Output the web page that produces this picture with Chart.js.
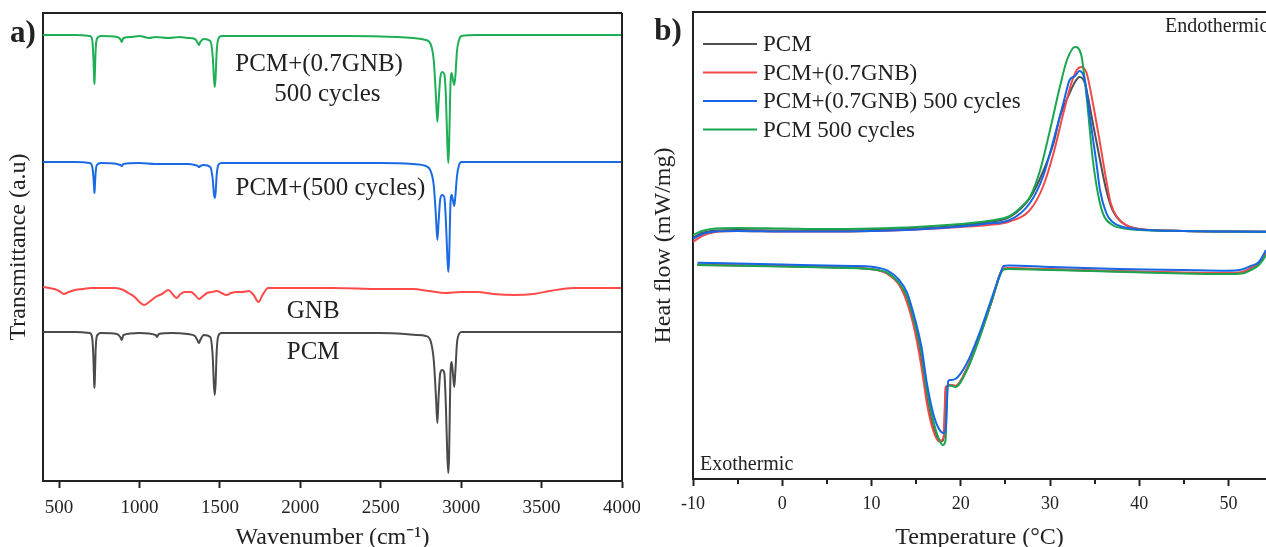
<!DOCTYPE html>
<html><head><meta charset="utf-8">
<script src="https://cdn.jsdelivr.net/npm/chart.js@4.4.0/dist/chart.umd.min.js"></script>
<style>
html,body{margin:0;padding:0;background:#fff;}
#wrap{position:relative;width:1266px;height:547px;overflow:hidden;background:#fff;}
#c1{position:absolute;left:0;top:0;width:640px;height:547px;}
#c2{position:absolute;left:640px;top:0;width:626px;height:547px;}
</style></head><body>
<div id="wrap"><canvas id="c1" width="640" height="547"></canvas><canvas id="c2" width="626" height="547"></canvas></div>
<script>
// ---------- Panel a) FTIR spectra: [wavenumber cm-1, transmittance a.u. (offset)] ----------
const ftirPCM500GNB = [[400,4.46],[600,4.46],[690,4.45],[705,4.42],[713,4.25],[718,4.02],[720,3.97],[722,4.05],[727,4.30],[735,4.42],[760,4.45],[860,4.44],[880,4.42],[890,4.39],[900,4.43],[950,4.44],[1000,4.45],[1060,4.43],[1100,4.44],[1180,4.43],[1250,4.44],[1300,4.43],[1345,4.42],[1362,4.38],[1370,4.36],[1378,4.39],[1400,4.42],[1440,4.40],[1455,4.25],[1463,4.02],[1468,3.94],[1473,4.03],[1480,4.30],[1490,4.42],[1510,4.45],[1700,4.45],[2000,4.45],[2300,4.45],[2600,4.44],[2700,4.43],[2780,4.41],[2810,4.37],[2830,4.20],[2843,3.85],[2852,3.59],[2860,3.80],[2870,4.03],[2882,4.09],[2895,4.07],[2905,3.85],[2914,3.38],[2920,3.18],[2925,3.35],[2933,3.95],[2941,4.08],[2950,4.00],[2957,3.96],[2964,4.05],[2974,4.30],[2987,4.41],[3002,4.45],[3100,4.46],[3500,4.46],[4000,4.46]];
const ftirPCM500 = [[400,3.19],[600,3.19],[690,3.18],[705,3.15],[713,3.05],[718,2.92],[720,2.88],[722,2.93],[727,3.08],[735,3.16],[760,3.18],[860,3.17],[880,3.16],[890,3.15],[900,3.17],[1000,3.18],[1100,3.17],[1200,3.17],[1300,3.17],[1345,3.16],[1362,3.15],[1370,3.14],[1378,3.15],[1400,3.16],[1440,3.14],[1455,3.02],[1463,2.87],[1468,2.83],[1473,2.88],[1480,3.06],[1490,3.16],[1510,3.18],[2000,3.18],[2500,3.18],[2700,3.17],[2780,3.15],[2810,3.10],[2830,2.95],[2843,2.65],[2852,2.41],[2860,2.60],[2870,2.82],[2882,2.86],[2895,2.84],[2905,2.60],[2914,2.25],[2920,2.09],[2925,2.22],[2933,2.75],[2941,2.86],[2950,2.80],[2957,2.75],[2964,2.85],[2974,3.05],[2987,3.16],[3002,3.19],[4000,3.19]];
const ftirGNB = [[400,1.94],[440,1.93],[470,1.92],[500,1.90],[530,1.87],[560,1.89],[600,1.91],[650,1.92],[700,1.93],[850,1.93],[900,1.91],[930,1.88],[970,1.84],[1000,1.79],[1030,1.76],[1060,1.79],[1100,1.84],[1140,1.87],[1180,1.91],[1205,1.87],[1230,1.83],[1255,1.87],[1280,1.89],[1320,1.89],[1345,1.86],[1370,1.82],[1395,1.85],[1420,1.88],[1450,1.89],[1480,1.90],[1510,1.88],[1540,1.86],[1570,1.88],[1600,1.89],[1640,1.89],[1680,1.90],[1710,1.86],[1740,1.79],[1765,1.86],[1800,1.93],[2000,1.93],[2200,1.93],[2500,1.92],[2700,1.92],[2800,1.90],[2900,1.88],[3000,1.89],[3100,1.89],[3200,1.87],[3330,1.86],[3450,1.87],[3550,1.90],[3700,1.93],[4000,1.93]];
const ftirPCM = [[400,1.49],[600,1.49],[690,1.48],[705,1.44],[713,1.25],[718,0.98],[720,0.93],[722,1.00],[727,1.30],[735,1.45],[760,1.48],[860,1.47],[880,1.44],[890,1.41],[900,1.46],[1000,1.48],[1100,1.46],[1110,1.44],[1120,1.47],[1200,1.48],[1300,1.47],[1345,1.45],[1362,1.40],[1370,1.38],[1378,1.41],[1400,1.46],[1440,1.44],[1455,1.25],[1463,0.95],[1468,0.86],[1473,0.97],[1480,1.30],[1490,1.45],[1510,1.48],[2000,1.48],[2500,1.48],[2650,1.47],[2720,1.46],[2780,1.45],[2810,1.40],[2830,1.20],[2843,0.85],[2852,0.58],[2860,0.85],[2870,1.08],[2882,1.11],[2895,1.08],[2905,0.75],[2914,0.25],[2920,0.08],[2925,0.25],[2933,1.05],[2941,1.19],[2950,1.05],[2957,0.94],[2964,1.10],[2974,1.38],[2987,1.47],[3002,1.49],[4000,1.49]];
const ftirColors = ['#1eae55','#1a6ae6','#ff4a4a','#4a4a4a'];
const ftirTicks = [500,1000,1500,2000,2500,3000,3500,4000];

// ---------- Panel b) DSC: [temperature °C, heat flow (offset, a.u.)] ----------
const dscNames = ['PCM','PCM+(0.7GNB)','PCM+(0.7GNB) 500 cycles','PCM 500 cycles'];
const dscColors = ['#505050','#f24a4a','#1666e6','#1aa64e'];
const dscPcmHeat = [[-10,2.41],[-9,2.46],[-7.5,2.485],[-5,2.49],[0,2.485],[5,2.485],[10,2.49],[15,2.505],[20,2.535],[23,2.57],[25.5,2.62],[27.75,2.81],[29.2,3.07],[30.4,3.36],[31.1,3.62],[32.2,3.86],[32.8,3.97],[33.3,4.02],[33.9,3.96],[34.8,3.56],[35.6,3.19],[36.3,2.89],[37,2.69],[38,2.57],[39,2.52],[40,2.50],[45,2.48],[50,2.475],[56,2.47]];
const dscGnbHeat = [[-10,2.37],[-9,2.43],[-7.5,2.47],[-5,2.48],[0,2.475],[5,2.475],[10,2.48],[15,2.495],[20,2.52],[23,2.54],[25.5,2.575],[27.75,2.69],[29.2,2.92],[30.4,3.26],[31.5,3.66],[32.4,3.96],[33.0,4.09],[33.5,4.12],[34.1,4.06],[34.8,3.76],[35.6,3.36],[36.3,2.99],[36.8,2.76],[37.5,2.62],[38.5,2.54],[40,2.50],[45,2.48],[50,2.475],[56,2.47]];
const dscGnb500Heat = [[-10,2.40],[-9,2.45],[-7.5,2.475],[-5,2.48],[0,2.475],[5,2.475],[10,2.48],[15,2.495],[20,2.525],[23,2.555],[25.5,2.59],[27.75,2.76],[29.2,3.02],[30.4,3.39],[31.5,3.76],[32.2,3.99],[32.8,4.03],[33.3,4.08],[33.9,3.99],[34.4,3.66],[35.2,3.16],[35.6,2.89],[36.3,2.66],[37,2.57],[38.2,2.52],[40,2.495],[45,2.48],[50,2.475],[56,2.47]];
const dscPcm500Heat = [[-10,2.44],[-9,2.48],[-7.5,2.505],[-5,2.51],[0,2.505],[5,2.50],[10,2.505],[15,2.52],[20,2.55],[23,2.58],[25.5,2.63],[27,2.74],[27.75,2.82],[28.9,3.09],[30,3.49],[31.1,3.92],[31.9,4.19],[32.8,4.32],[33.5,4.24],[34.1,3.82],[34.8,3.19],[35.4,2.84],[36,2.64],[37,2.54],[38,2.51],[40,2.49],[45,2.48],[50,2.475],[56,2.47]];
const dscPcmCool = [[-9.5,2.14],[0,2.128],[5,2.118],[10,2.098],[11.8,2.055],[13.1,1.95],[14.0,1.78],[14.9,1.49],[15.6,1.17],[16.2,0.81],[16.9,0.52],[17.6,0.39],[17.9,0.38],[18.1,0.42],[18.35,0.92],[18.9,0.94],[19.4,0.93],[20.7,1.10],[22.1,1.42],[23.4,1.76],[24.5,2.07],[24.8,2.10],[25.3,2.105],[30,2.095],[37.7,2.075],[45,2.06],[49.8,2.055],[51.5,2.063],[52.5,2.10],[53.4,2.15],[54.2,2.25],[55,2.40]];
const dscGnbCool = [[-9.5,2.145],[0,2.13],[5,2.12],[10,2.10],[11.8,2.05],[13.1,1.94],[14.0,1.76],[14.9,1.46],[15.6,1.12],[16.2,0.76],[16.9,0.49],[17.6,0.373],[17.9,0.39],[18.1,0.43],[18.3,0.92],[18.9,0.94],[19.4,0.93],[20.7,1.11],[22.1,1.42],[23.4,1.76],[24.5,2.07],[24.8,2.105],[25.3,2.11],[30,2.10],[37.7,2.08],[45,2.065],[49.8,2.06],[51.5,2.07],[52.5,2.11],[53.4,2.16],[54.2,2.26],[55,2.41]];
const dscGnb500Cool = [[-9.5,2.163],[0,2.145],[5,2.135],[8,2.13],[10,2.123],[11.8,2.083],[13.1,1.99],[14.0,1.86],[14.9,1.59],[15.6,1.32],[16.2,0.96],[16.9,0.66],[17.5,0.51],[18.1,0.46],[18.3,0.49],[18.6,0.98],[18.8,0.99],[19.4,1.00],[20.7,1.16],[22.1,1.46],[23.4,1.79],[24.5,2.07],[24.8,2.13],[25.3,2.135],[30,2.12],[37.7,2.10],[45,2.09],[49.8,2.083],[51.5,2.095],[52.5,2.13],[53.4,2.17],[54.2,2.29],[55,2.44]];
const dscPcm500Cool = [[-9.5,2.14],[0,2.125],[5,2.115],[10,2.097],[11.8,2.06],[13.1,1.96],[14.0,1.82],[14.9,1.54],[15.6,1.26],[16.2,0.89],[16.9,0.59],[17.5,0.41],[18.0,0.34],[18.3,0.39],[18.5,0.94],[19.0,0.93],[19.4,0.92],[20.7,1.09],[22.1,1.41],[23.4,1.76],[24.5,2.06],[24.8,2.095],[25.3,2.10],[30,2.09],[37.7,2.073],[45,2.055],[49.8,2.05],[51.5,2.055],[52.5,2.09],[53.4,2.14],[54.2,2.24],[55,2.40]];
const dscHeat = [dscPcmHeat, dscGnbHeat, dscGnb500Heat, dscPcm500Heat];
const dscCool = [dscPcmCool, dscGnbCool, dscGnb500Cool, dscPcm500Cool];
const dscTicks = [-10,0,10,20,30,40,50];
const dscMinorTicks = [-5,5,15,25,35,45];

// ---------- shared styling ----------
const SERIF = '"Liberation Serif","Times New Roman",serif';
const INK = '#222';
const toXY = arr => arr.map(p => ({x: p[0], y: p[1]}));

const framePlugin = {
  id: 'frame',
  afterDraw(chart, args, opts) {
    const {ctx, chartArea: a, scales} = chart;
    ctx.save();
    ctx.strokeStyle = INK; ctx.lineWidth = 2;
    ctx.beginPath();
    ctx.moveTo(a.left - 1, a.top); ctx.lineTo(a.right, a.top);
    if (opts.right) { ctx.moveTo(a.right, a.top); ctx.lineTo(a.right, a.bottom); }
    // minor (unlabelled) tick marks, shorter than the major ones
    (opts.minor || []).forEach(v => {
      const px = Math.round(scales.x.getPixelForValue(v));
      ctx.moveTo(px, a.bottom); ctx.lineTo(px, a.bottom + 5);
    });
    ctx.stroke();
    ctx.restore();
  }
};
const textPlugin = {
  id: 'texts',
  afterDraw(chart, args, opts) {
    const {ctx, scales} = chart;
    ctx.save();
    ctx.fillStyle = INK; ctx.textBaseline = 'middle';
    (opts.items || []).forEach(t => {
      ctx.font = (t.bold ? 'bold ' : '') + t.size + 'px ' + SERIF;
      ctx.textAlign = t.align || 'center';
      const x = t.data ? scales.x.getPixelForValue(t.x) : t.x;
      const y = t.data ? scales.y.getPixelForValue(t.y) : t.y;
      ctx.fillText(t.text, x, y);
    });
    (opts.legend || []).forEach((l, i) => {
      const y = opts.legendY + i * opts.legendGap;
      ctx.strokeStyle = l.color; ctx.lineWidth = 2;
      ctx.beginPath(); ctx.moveTo(opts.legendX, y); ctx.lineTo(opts.legendX + 54, y); ctx.stroke();
      ctx.font = '23px ' + SERIF; ctx.textAlign = 'left'; ctx.fillStyle = INK;
      ctx.fillText(l.text, opts.legendX + 60, y + 1);
    });
    ctx.restore();
  }
};

function xAxis(min, max, majors, title, height, fontSize, labelPad) {
  return {
    type: 'linear', min, max,
    afterBuildTicks(s) { s.ticks = majors.map(v => ({value: v})); },
    ticks: {autoSkip: false, maxRotation: 0, minRotation: 0, color: INK,
            font: {family: SERIF, size: fontSize}, padding: labelPad,
            callback: v => String(v)},
    grid: {display: true, drawOnChartArea: false, drawTicks: true, tickLength: 7, tickColor: INK, tickWidth: 2},
    border: {display: true, color: INK, width: 2},
    title: {display: true, text: title, color: INK, font: {family: SERIF, size: 24}, padding: {top: 0, bottom: -5}},
    afterFit(s) { s.height = height; s.paddingLeft = 0; s.paddingRight = 0; }
  };
}
function yAxis(max, title, width, pad) {
  return {
    type: 'linear', min: 0, max,
    ticks: {display: false},
    grid: {display: true, drawOnChartArea: false, drawTicks: false},
    border: {display: true, color: INK, width: 2},
    title: {display: true, text: title, color: INK, font: {family: SERIF, size: 24}, padding: {top: pad, bottom: 0}},
    afterFit(s) { s.width = width; }
  };
}
const baseOpts = {
  responsive: false, animation: false, events: [],
  plugins: {legend: {display: false}, tooltip: {enabled: false}},
  elements: {point: {radius: 0}, line: {borderWidth: 2, tension: 0, cubicInterpolationMode: 'monotone'}}
};

// ---------- chart a) ----------
const ftirSeries = [ftirPCM500GNB, ftirPCM500, ftirGNB, ftirPCM];
new Chart(document.getElementById('c1'), {
  type: 'line',
  data: {datasets: ftirSeries.map((s, i) => ({data: toXY(s), borderColor: ftirColors[i], fill: false}))},
  options: Object.assign({}, baseOpts, {
    layout: {padding: {left: 0, top: 13, right: 18, bottom: 0}},
    scales: {
      x: xAxis(400, 4000, ftirTicks, 'Wavenumber (cm\u207B\u00B9)', 66, 19, 9),
      y: yAxis(4.68, 'Transmittance (a.u)', 43, 4)
    },
    plugins: Object.assign({}, baseOpts.plugins, {
      frame: {right: true},
      texts: {items: [
        {text: 'a)', x: 23, y: 34, size: 31, bold: true},
        {text: 'PCM+(0.7GNB)', x: 2117, y: 4.17, size: 25, data: true},
        {text: '500 cycles', x: 2168, y: 3.87, size: 25, data: true},
        {text: 'PCM+(500 cycles)', x: 2187, y: 2.93, size: 25, data: true},
        {text: 'GNB', x: 2080, y: 1.70, size: 25, data: true},
        {text: 'PCM', x: 2080, y: 1.29, size: 25, data: true}
      ]}
    })
  }),
  plugins: [framePlugin, textPlugin]
});

// ---------- chart b) ----------
const layerOrder = [3, 2, 0, 1]; // PCM bottom ... blue on top
const dscSets = [];
[0, 1, 3, 2].forEach(i => {
  dscSets.push({label: dscNames[i], data: toXY(dscHeat[i]), borderColor: dscColors[i], fill: false, order: layerOrder[i]});
  dscSets.push({label: dscNames[i] + ' (cooling)', data: toXY(dscCool[i]), borderColor: dscColors[i], fill: false, order: layerOrder[i]});
});
new Chart(document.getElementById('c2'), {
  type: 'line',
  data: {datasets: dscSets},
  options: Object.assign({}, baseOpts, {
    layout: {padding: {left: 0, top: 12, right: 0, bottom: 0}},
    scales: {
      x: xAxis(-10, 54.2, dscTicks, 'Temperature (\u00B0C)', 68, 18, 7),
      y: yAxis(4.67, 'Heat flow (mW/mg)', 53, 9)
    },
    plugins: Object.assign({}, baseOpts.plugins, {
      frame: {right: false, minor: dscMinorTicks},
      texts: {
        items: [
          {text: 'b)', x: 28, y: 32, size: 31, bold: true},
          {text: 'Endothermic', x: 525, y: 27, size: 20, align: 'left'},
          {text: 'Exothermic', x: 60, y: 465, size: 20, align: 'left'}
        ],
        legend: dscNames.map((n, i) => ({text: n, color: dscColors[i]})),
        legendX: 63, legendY: 44, legendGap: 28.5
      }
    })
  }),
  plugins: [framePlugin, textPlugin]
});
</script>
</body></html>
